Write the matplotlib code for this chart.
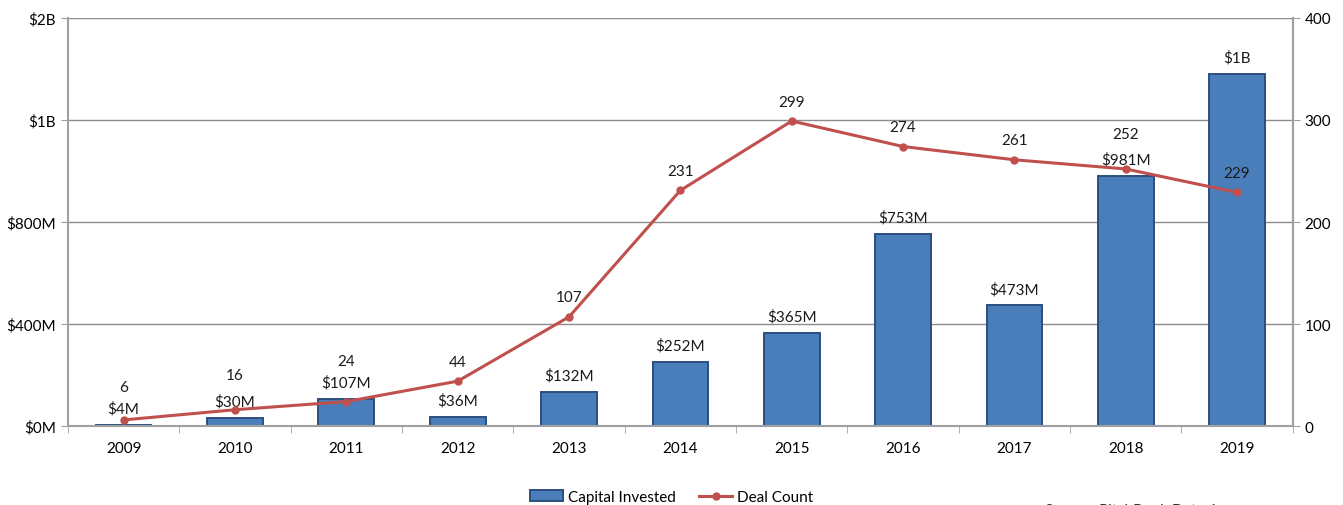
import matplotlib.pyplot as plt
import numpy as np

years = ["2009", "2010", "2011", "2012", "2013", "2014", "2015", "2016", "2017", "2018", "2019"]
capital = [4, 30, 107, 36, 132, 252, 365, 753, 473, 981, 1380]  # $M
capital_labels = ["$4M", "$30M", "$107M", "$36M", "$132M", "$252M", "$365M", "$753M", "$473M", "$981M", "$1B"]
deals = [6, 16, 24, 44, 107, 231, 299, 274, 261, 252, 229]
left_ticks = [0, 400, 800, 1200, 1600]
left_tick_labels = ["$0M", "$400M", "$800M", "$1B", "$2B"]
right_ticks = [0, 100, 200, 300, 400]

# label offsets (points) above each deal marker
deal_offsets = [24, 25, 29, 14, 14, 14, 14, 14, 14, 25, 14]

plt.rcParams['font.family'] = ['Lato', 'DejaVu Sans']
fig = plt.figure(figsize=(13.43, 5.06), dpi=100)
ax = fig.add_axes([0.0506, 0.156, 0.912, 0.8065])
x = np.arange(len(years))

ax.set_axisbelow(True)
ax.yaxis.grid(True, color='#8c8c8c', linewidth=1)
bars = ax.bar(x, capital, width=0.5, color='#4a7ebb', edgecolor='#2b4f7e', linewidth=1.4,
              label='Capital Invested', zorder=2)
ax.set_xlim(-0.5, len(years) - 0.5)
ax.set_ylim(0, 1600)
ax.set_yticks(left_ticks)
ax.set_yticklabels(left_tick_labels)
ax.set_xticks(x)
ax.set_xticklabels(years)
ax.set_xticks(np.arange(-0.5, len(years), 1), minor=True)
ax.tick_params(axis='x', which='major', length=0, pad=11)
ax.tick_params(axis='x', which='minor', length=5, color='#a0a0a0')
ax.tick_params(axis='y', length=5, color='#a0a0a0', labelsize=11)
ax.tick_params(axis='x', labelsize=11)
ax.spines['top'].set_visible(False)
for s in ['left', 'bottom', 'right']:
    ax.spines[s].set_color('#a0a0a0')
    ax.spines[s].set_linewidth(1.5)

for xi, v, lab in zip(x, capital, capital_labels):
    ax.annotate(lab, (xi, v), xytext=(0, 12), textcoords='offset points',
                ha='center', va='center', fontsize=11, color='#1a1a1a')

ax2 = ax.twinx()
ax2.plot(x, deals, color='#c0504d', linewidth=2.2, marker='o', markersize=5,
         label='Deal Count', zorder=3)
ax2.set_ylim(0, 400)
ax2.set_yticks(right_ticks)
ax2.tick_params(axis='y', length=5, color='#a0a0a0', labelsize=11)
for s in ['top', 'left', 'bottom']:
    ax2.spines[s].set_visible(False)
ax2.spines['right'].set_color('#a0a0a0')
ax2.spines['right'].set_linewidth(1.5)

for xi, v, off in zip(x, deals, deal_offsets):
    ax2.annotate(str(v), (xi, v), xytext=(0, off), textcoords='offset points',
                 ha='center', va='center', fontsize=11, color='#1a1a1a')

h1, l1 = ax.get_legend_handles_labels()
h2, l2 = ax2.get_legend_handles_labels()
fig.legend(h1 + h2, l1 + l2, loc='lower center', bbox_to_anchor=(0.5, -0.025), ncol=2,
           frameon=False, fontsize=11, handlelength=2.2, handletextpad=0.3,
           columnspacing=1.5)
fig.text(0.778, -0.018, "Source: PitchBook Data, Inc.", fontsize=11, color='#333333')

fig.savefig("out.png", dpi=100)
